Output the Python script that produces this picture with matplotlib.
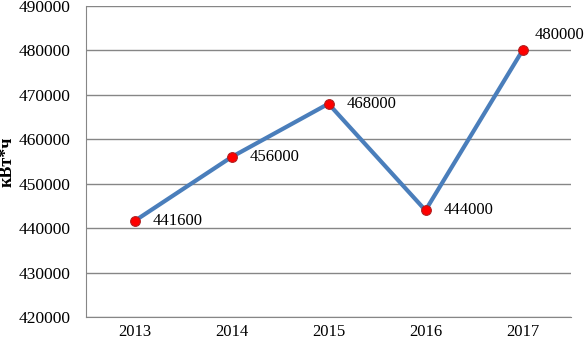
import numpy as np
import matplotlib.pyplot as plt

years = ["2013", "2014", "2015", "2016", "2017"]
values = [441600, 456000, 468000, 444000, 480000]
label_offsets = [(13, 0), (13, 0), (13, 0), (13, 0), (9, 11)]

plt.rcParams['font.family'] = ['Liberation Serif', 'DejaVu Serif']

fig = plt.figure(figsize=(5.84, 3.44), dpi=100)
ax = fig.add_axes([86/584, 27/344, 485/584, 311/344])

x = np.arange(len(years))
ax.plot(x, values, color="#4a7ebb", lw=3, zorder=3,
        marker="o", markersize=7, markerfacecolor="#ff0000",
        markeredgecolor="#b02020", markeredgewidth=0.8)

for xi, v, off in zip(x, values, label_offsets):
    ax.annotate(str(v), (xi, v), xytext=off, textcoords="offset points",
                fontsize=12, ha="left", va="center", annotation_clip=False)

ax.set_xlim(-0.5, len(years) - 0.5)
ax.set_ylim(420000, 490000)
ax.set_yticks(np.arange(420000, 490001, 10000))
ax.set_xticks(x)
ax.set_xticklabels(years)
ax.tick_params(length=0, labelsize=12)
ax.tick_params(axis="y", pad=11, labelsize=12.5)
ax.tick_params(axis="x", pad=5)
ax.yaxis.grid(True, color="#868686", lw=1)
ax.set_axisbelow(True)
for s in ["top", "right"]:
    ax.spines[s].set_visible(False)
for s in ["left", "bottom"]:
    ax.spines[s].set_color("#868686")
ax.set_ylabel("кВт*ч", fontsize=13, fontweight="bold", labelpad=2)

fig.savefig("out.png", dpi=100)
